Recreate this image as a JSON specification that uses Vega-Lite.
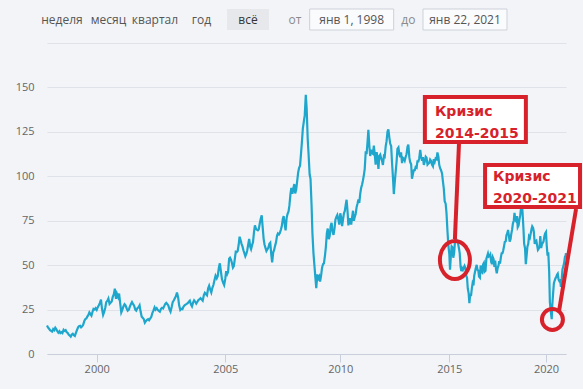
{
  "$schema": "https://vega.github.io/schema/vega-lite/v6.json",
  "background": "#f2f4f7",
  "padding": {"left": 15, "top": 8, "right": 0, "bottom": 20},
  "spacing": 12,
  "config": {"view": {"stroke": null}, "font": "Open Sans"},
  "vconcat": [
    {
      "width": 433,
      "height": 21,
      "resolve": {"scale": {"x": "independent"}},
      "layer": [
        {
          "data": {"values": [
            {"item": "неделя", "kind": "plain"},
            {"item": "месяц", "kind": "plain"},
            {"item": "квартал", "kind": "plain"},
            {"item": "год", "kind": "plain"},
            {"item": "всё", "kind": "active"}
          ]},
          "encoding": {"x": {"field": "item", "type": "nominal", "title": null, "sort": null, "scale": {"type": "point", "padding": 0, "domain": ["неделя", "месяц", "квартал", "год", "всё"], "range": [15, 201]}, "axis": null}},
          "layer": [
            {
              "transform": [{"filter": "datum.kind == 'active'"}],
              "mark": {"type": "rect", "width": 42, "fill": "#e6e8ec"}
            },
            {
              "mark": {"type": "text", "fontSize": 12, "align": "center", "baseline": "middle", "font": "Open Sans"},
              "encoding": {
                "text": {"field": "item"},
                "color": {"field": "kind", "type": "nominal", "scale": {"domain": ["plain", "active", "label", "date"], "range": ["#555555", "#333333", "#8a8a8a", "#555555"]}, "legend": null}
              }
            }
          ]
        },
        {
          "data": {"values": [
            {"item": "от", "kind": "label"},
            {"item": "янв 1, 1998", "kind": "date"},
            {"item": "до", "kind": "label"},
            {"item": "янв 22, 2021", "kind": "date"}
          ]},
          "encoding": {"x": {"field": "item", "type": "nominal", "title": null, "sort": null, "scale": {"type": "point", "padding": 0, "domain": ["от", "янв 1, 1998", "до", "янв 22, 2021"], "range": [248, 418]}, "axis": null}},
          "layer": [
            {
              "transform": [{"filter": "datum.kind == 'date'"}],
              "mark": {"type": "rect", "width": 84, "fill": "#fafbfc", "stroke": "#cdd1d8", "strokeWidth": 1}
            },
            {
              "mark": {"type": "text", "fontSize": 12, "align": "center", "baseline": "middle", "font": "Open Sans"},
              "encoding": {
                "text": {"field": "item"},
                "color": {"field": "kind", "type": "nominal", "scale": {"domain": ["plain", "active", "label", "date"], "range": ["#555555", "#333333", "#8a8a8a", "#555555"]}, "legend": null}
              }
            }
          ]
        }
      ]
    },
    {
      "width": 519,
      "height": 311,
      "encoding": {
        "x": {
          "field": "x", "type": "quantitative", "title": null,
          "scale": {
            "type": "linear", "nice": false, "zero": false,
            "domain": [1998, 2000, 2005, 2010, 2015, 2020, 2021.058],
            "range": [0, 49.7, 178.3, 293.3, 402.3, 499, 519]
          },
          "axis": {
            "values": [2000, 2005, 2010, 2015, 2020],
            "format": "d", "grid": false, "title": null,
            "domainColor": "#c8cfdb", "tickColor": "#c8cfdb", "tickSize": 8,
            "labelPadding": 1, "labelFontSize": 11, "labelColor": "#666666", "labelFont": "Open Sans"
          }
        },
        "y": {
          "field": "y", "type": "quantitative", "title": null,
          "scale": {"domain": [0, 175], "nice": false},
          "axis": {
            "values": [0, 25, 50, 75, 100, 125, 150, 175],
            "labelExpr": "datum.value == 175 ? '' : datum.label",
            "grid": true, "gridColor": "#dfe3e9", "ticks": false, "domain": false,
            "labelPadding": 13, "labelFontSize": 11, "labelColor": "#666666", "labelFont": "Open Sans", "title": null
          }
        }
      },
      "layer": [
        {
          "data": {"values": [
{"x":1998.000,"y":16.0},{"x":1998.038,"y":15.0},{"x":1998.083,"y":14.2},{"x":1998.121,"y":13.4},{"x":1998.167,"y":13.0},{"x":1998.205,"y":12.6},{"x":1998.250,"y":14.0},{"x":1998.288,"y":13.4},{"x":1998.333,"y":14.8},{"x":1998.371,"y":14.0},{"x":1998.417,"y":12.8},{"x":1998.455,"y":12.0},{"x":1998.500,"y":12.8},{"x":1998.538,"y":11.8},{"x":1998.583,"y":12.3},{"x":1998.621,"y":11.8},{"x":1998.667,"y":13.6},{"x":1998.705,"y":13.0},{"x":1998.750,"y":13.4},{"x":1998.788,"y":12.4},{"x":1998.833,"y":11.8},{"x":1998.871,"y":10.9},{"x":1998.917,"y":10.4},{"x":1998.955,"y":9.8},
{"x":1999.000,"y":11.0},{"x":1999.038,"y":11.4},{"x":1999.083,"y":10.6},{"x":1999.121,"y":10.2},{"x":1999.167,"y":12.0},{"x":1999.205,"y":13.4},{"x":1999.250,"y":15.0},{"x":1999.288,"y":15.6},{"x":1999.333,"y":15.8},{"x":1999.371,"y":15.0},{"x":1999.417,"y":15.6},{"x":1999.455,"y":16.4},{"x":1999.500,"y":18.5},{"x":1999.538,"y":19.6},{"x":1999.583,"y":20.0},{"x":1999.621,"y":21.0},{"x":1999.667,"y":22.0},{"x":1999.705,"y":23.4},{"x":1999.750,"y":22.4},{"x":1999.788,"y":21.6},{"x":1999.833,"y":23.8},{"x":1999.871,"y":25.4},{"x":1999.917,"y":25.0},{"x":1999.955,"y":25.8},
{"x":2000.000,"y":24.8},{"x":2000.038,"y":26.2},{"x":2000.083,"y":27.4},{"x":2000.121,"y":28.6},{"x":2000.167,"y":30.6},{"x":2000.205,"y":25.6},{"x":2000.250,"y":22.0},{"x":2000.288,"y":23.5},{"x":2000.333,"y":26.0},{"x":2000.371,"y":29.2},{"x":2000.417,"y":30.0},{"x":2000.455,"y":31.2},{"x":2000.500,"y":28.2},{"x":2000.538,"y":28.8},{"x":2000.583,"y":29.6},{"x":2000.621,"y":32.0},{"x":2000.667,"y":33.6},{"x":2000.705,"y":36.8},{"x":2000.750,"y":31.0},{"x":2000.788,"y":33.8},{"x":2000.833,"y":32.0},{"x":2000.871,"y":34.0},{"x":2000.917,"y":28.0},{"x":2000.955,"y":23.4},
{"x":2001.000,"y":25.0},{"x":2001.038,"y":26.8},{"x":2001.083,"y":28.0},{"x":2001.121,"y":27.4},{"x":2001.167,"y":25.6},{"x":2001.205,"y":24.4},{"x":2001.250,"y":25.0},{"x":2001.288,"y":26.6},{"x":2001.333,"y":28.2},{"x":2001.371,"y":29.2},{"x":2001.417,"y":28.0},{"x":2001.455,"y":27.2},{"x":2001.500,"y":25.0},{"x":2001.538,"y":24.4},{"x":2001.583,"y":25.8},{"x":2001.621,"y":26.2},{"x":2001.667,"y":27.4},{"x":2001.705,"y":24.0},{"x":2001.750,"y":21.0},{"x":2001.788,"y":20.4},{"x":2001.833,"y":19.6},{"x":2001.871,"y":17.6},{"x":2001.917,"y":18.6},{"x":2001.955,"y":19.2},
{"x":2002.000,"y":19.6},{"x":2002.038,"y":19.0},{"x":2002.083,"y":20.0},{"x":2002.121,"y":20.8},{"x":2002.167,"y":23.2},{"x":2002.205,"y":24.4},{"x":2002.250,"y":26.2},{"x":2002.288,"y":25.0},{"x":2002.333,"y":25.8},{"x":2002.371,"y":24.8},{"x":2002.417,"y":24.2},{"x":2002.455,"y":23.8},{"x":2002.500,"y":25.4},{"x":2002.538,"y":26.0},{"x":2002.583,"y":25.6},{"x":2002.621,"y":26.8},{"x":2002.667,"y":28.2},{"x":2002.705,"y":28.8},{"x":2002.750,"y":28.0},{"x":2002.788,"y":27.2},{"x":2002.833,"y":25.0},{"x":2002.871,"y":23.8},{"x":2002.917,"y":26.6},{"x":2002.955,"y":29.2},
{"x":2003.000,"y":30.2},{"x":2003.038,"y":31.4},{"x":2003.083,"y":32.6},{"x":2003.121,"y":34.6},{"x":2003.167,"y":31.8},{"x":2003.205,"y":27.4},{"x":2003.250,"y":24.8},{"x":2003.288,"y":25.4},{"x":2003.333,"y":25.2},{"x":2003.371,"y":26.6},{"x":2003.417,"y":27.4},{"x":2003.455,"y":27.8},{"x":2003.500,"y":28.2},{"x":2003.538,"y":28.6},{"x":2003.583,"y":29.4},{"x":2003.621,"y":30.0},{"x":2003.667,"y":27.8},{"x":2003.705,"y":26.8},{"x":2003.750,"y":29.0},{"x":2003.788,"y":30.2},{"x":2003.833,"y":29.4},{"x":2003.871,"y":28.4},{"x":2003.917,"y":29.4},{"x":2003.955,"y":30.4},
{"x":2004.000,"y":30.8},{"x":2004.038,"y":31.4},{"x":2004.083,"y":30.6},{"x":2004.121,"y":30.0},{"x":2004.167,"y":33.2},{"x":2004.205,"y":34.4},{"x":2004.250,"y":33.6},{"x":2004.288,"y":33.0},{"x":2004.333,"y":37.0},{"x":2004.371,"y":38.4},{"x":2004.417,"y":36.0},{"x":2004.455,"y":34.6},{"x":2004.500,"y":37.4},{"x":2004.538,"y":38.8},{"x":2004.583,"y":41.8},{"x":2004.621,"y":44.0},{"x":2004.667,"y":42.6},{"x":2004.705,"y":43.8},{"x":2004.750,"y":48.6},{"x":2004.788,"y":51.0},{"x":2004.833,"y":46.0},{"x":2004.871,"y":42.0},{"x":2004.917,"y":40.0},{"x":2004.955,"y":38.8},
{"x":2005.000,"y":42.4},{"x":2005.038,"y":46.6},{"x":2005.083,"y":45.0},{"x":2005.121,"y":46.2},{"x":2005.167,"y":53.6},{"x":2005.205,"y":54.2},{"x":2005.250,"y":53.0},{"x":2005.288,"y":51.2},{"x":2005.333,"y":48.6},{"x":2005.371,"y":49.4},{"x":2005.417,"y":53.8},{"x":2005.455,"y":57.6},{"x":2005.500,"y":57.4},{"x":2005.538,"y":58.0},{"x":2005.583,"y":61.6},{"x":2005.621,"y":66.0},{"x":2005.667,"y":64.0},{"x":2005.705,"y":62.0},{"x":2005.750,"y":60.4},{"x":2005.788,"y":58.4},{"x":2005.833,"y":56.6},{"x":2005.871,"y":55.0},{"x":2005.917,"y":56.4},{"x":2005.955,"y":58.4},
{"x":2006.000,"y":62.0},{"x":2006.038,"y":64.8},{"x":2006.083,"y":60.4},{"x":2006.121,"y":59.0},{"x":2006.167,"y":61.4},{"x":2006.205,"y":63.0},{"x":2006.250,"y":68.8},{"x":2006.288,"y":72.4},{"x":2006.333,"y":70.4},{"x":2006.371,"y":70.0},{"x":2006.417,"y":69.6},{"x":2006.455,"y":70.2},{"x":2006.500,"y":73.6},{"x":2006.538,"y":76.0},{"x":2006.583,"y":78.0},{"x":2006.621,"y":72.0},{"x":2006.667,"y":64.8},{"x":2006.705,"y":61.6},{"x":2006.750,"y":59.6},{"x":2006.788,"y":58.0},{"x":2006.833,"y":59.0},{"x":2006.871,"y":59.8},{"x":2006.917,"y":62.0},{"x":2006.955,"y":62.6},
{"x":2007.000,"y":55.8},{"x":2007.038,"y":51.5},{"x":2007.083,"y":57.2},{"x":2007.121,"y":58.4},{"x":2007.167,"y":61.0},{"x":2007.205,"y":62.8},{"x":2007.250,"y":66.6},{"x":2007.288,"y":67.8},{"x":2007.333,"y":67.2},{"x":2007.371,"y":68.0},{"x":2007.417,"y":70.0},{"x":2007.455,"y":71.8},{"x":2007.500,"y":76.0},{"x":2007.538,"y":77.6},{"x":2007.583,"y":73.0},{"x":2007.621,"y":69.6},{"x":2007.667,"y":76.6},{"x":2007.705,"y":78.8},{"x":2007.750,"y":80.2},{"x":2007.788,"y":83.6},{"x":2007.833,"y":90.0},{"x":2007.871,"y":93.4},{"x":2007.917,"y":90.2},{"x":2007.955,"y":93.0},
{"x":2008.000,"y":95.6},{"x":2008.038,"y":90.4},{"x":2008.083,"y":92.6},{"x":2008.121,"y":96.8},{"x":2008.167,"y":102.0},{"x":2008.205,"y":104.6},{"x":2008.250,"y":106.0},{"x":2008.288,"y":112.0},{"x":2008.333,"y":119.6},{"x":2008.371,"y":126.8},{"x":2008.417,"y":131.0},{"x":2008.455,"y":134.4},{"x":2008.500,"y":145.8},{"x":2008.538,"y":138.0},{"x":2008.583,"y":121.0},{"x":2008.621,"y":112.4},{"x":2008.667,"y":101.0},{"x":2008.705,"y":98.6},{"x":2008.750,"y":84.0},{"x":2008.788,"y":68.0},{"x":2008.833,"y":56.8},{"x":2008.871,"y":50.4},{"x":2008.917,"y":43.0},{"x":2008.955,"y":37.0},
{"x":2009.000,"y":44.8},{"x":2009.038,"y":42.4},{"x":2009.083,"y":43.6},{"x":2009.121,"y":40.8},{"x":2009.167,"y":44.2},{"x":2009.205,"y":48.4},{"x":2009.250,"y":50.6},{"x":2009.288,"y":51.0},{"x":2009.333,"y":55.4},{"x":2009.371,"y":60.0},{"x":2009.417,"y":68.2},{"x":2009.455,"y":70.6},{"x":2009.500,"y":64.6},{"x":2009.538,"y":66.4},{"x":2009.583,"y":72.0},{"x":2009.621,"y":73.8},{"x":2009.667,"y":68.6},{"x":2009.705,"y":67.0},{"x":2009.750,"y":70.8},{"x":2009.788,"y":75.6},{"x":2009.833,"y":77.2},{"x":2009.871,"y":78.2},{"x":2009.917,"y":75.6},{"x":2009.955,"y":72.8},
{"x":2010.000,"y":79.2},{"x":2010.038,"y":76.8},{"x":2010.083,"y":72.0},{"x":2010.121,"y":75.4},{"x":2010.167,"y":79.2},{"x":2010.205,"y":80.4},{"x":2010.250,"y":84.0},{"x":2010.288,"y":86.8},{"x":2010.333,"y":80.2},{"x":2010.371,"y":72.4},{"x":2010.417,"y":74.6},{"x":2010.455,"y":76.4},{"x":2010.500,"y":72.8},{"x":2010.538,"y":76.6},{"x":2010.583,"y":80.6},{"x":2010.621,"y":75.0},{"x":2010.667,"y":77.2},{"x":2010.705,"y":78.8},{"x":2010.750,"y":82.8},{"x":2010.788,"y":84.6},{"x":2010.833,"y":87.0},{"x":2010.871,"y":85.0},{"x":2010.917,"y":90.4},{"x":2010.955,"y":93.4},
{"x":2011.000,"y":95.4},{"x":2011.038,"y":97.6},{"x":2011.083,"y":100.8},{"x":2011.121,"y":104.2},{"x":2011.167,"y":114.0},{"x":2011.205,"y":112.4},{"x":2011.250,"y":119.4},{"x":2011.288,"y":126.2},{"x":2011.333,"y":117.0},{"x":2011.371,"y":111.4},{"x":2011.417,"y":115.0},{"x":2011.455,"y":113.0},{"x":2011.500,"y":112.6},{"x":2011.538,"y":117.2},{"x":2011.583,"y":112.0},{"x":2011.621,"y":106.6},{"x":2011.667,"y":113.6},{"x":2011.705,"y":110.8},{"x":2011.750,"y":104.2},{"x":2011.788,"y":111.4},{"x":2011.833,"y":112.2},{"x":2011.871,"y":110.2},{"x":2011.917,"y":108.6},{"x":2011.955,"y":106.4},
{"x":2012.000,"y":111.4},{"x":2012.038,"y":111.0},{"x":2012.083,"y":117.0},{"x":2012.121,"y":119.6},{"x":2012.167,"y":125.2},{"x":2012.205,"y":126.4},{"x":2012.250,"y":121.8},{"x":2012.288,"y":118.4},{"x":2012.333,"y":117.0},{"x":2012.371,"y":108.2},{"x":2012.417,"y":99.0},{"x":2012.455,"y":90.0},{"x":2012.500,"y":97.0},{"x":2012.538,"y":102.2},{"x":2012.583,"y":108.4},{"x":2012.621,"y":115.4},{"x":2012.667,"y":116.2},{"x":2012.705,"y":112.6},{"x":2012.750,"y":110.8},{"x":2012.788,"y":113.4},{"x":2012.833,"y":107.4},{"x":2012.871,"y":110.4},{"x":2012.917,"y":109.8},{"x":2012.955,"y":108.8},
{"x":2013.000,"y":111.0},{"x":2013.038,"y":112.4},{"x":2013.083,"y":116.6},{"x":2013.121,"y":117.8},{"x":2013.167,"y":110.6},{"x":2013.205,"y":108.0},{"x":2013.250,"y":106.8},{"x":2013.288,"y":98.6},{"x":2013.333,"y":101.4},{"x":2013.371,"y":103.4},{"x":2013.417,"y":103.4},{"x":2013.455,"y":105.2},{"x":2013.500,"y":104.8},{"x":2013.538,"y":108.4},{"x":2013.583,"y":108.4},{"x":2013.621,"y":110.2},{"x":2013.667,"y":114.8},{"x":2013.705,"y":111.2},{"x":2013.750,"y":108.8},{"x":2013.788,"y":110.8},{"x":2013.833,"y":106.4},{"x":2013.871,"y":108.2},{"x":2013.917,"y":111.0},{"x":2013.955,"y":110.4},
{"x":2014.000,"y":106.6},{"x":2014.038,"y":107.2},{"x":2014.083,"y":107.6},{"x":2014.121,"y":109.4},{"x":2014.167,"y":108.6},{"x":2014.205,"y":106.6},{"x":2014.250,"y":105.6},{"x":2014.288,"y":109.6},{"x":2014.333,"y":108.2},{"x":2014.371,"y":110.0},{"x":2014.417,"y":109.6},{"x":2014.455,"y":113.4},{"x":2014.500,"y":111.0},{"x":2014.538,"y":106.4},{"x":2014.583,"y":104.4},{"x":2014.621,"y":103.4},{"x":2014.667,"y":101.6},{"x":2014.705,"y":97.4},{"x":2014.750,"y":92.8},{"x":2014.788,"y":86.0},{"x":2014.833,"y":84.6},{"x":2014.871,"y":79.4},{"x":2014.917,"y":69.0},{"x":2014.955,"y":61.4},
{"x":2015.000,"y":56.4},{"x":2015.038,"y":47.4},{"x":2015.083,"y":55.6},{"x":2015.121,"y":60.6},{"x":2015.167,"y":60.0},{"x":2015.205,"y":54.2},{"x":2015.250,"y":56.8},{"x":2015.288,"y":62.4},{"x":2015.333,"y":65.4},{"x":2015.371,"y":64.2},{"x":2015.417,"y":63.2},{"x":2015.455,"y":62.0},{"x":2015.500,"y":59.4},{"x":2015.538,"y":56.8},{"x":2015.583,"y":49.2},{"x":2015.621,"y":46.6},{"x":2015.667,"y":48.2},{"x":2015.705,"y":47.4},{"x":2015.750,"y":48.6},{"x":2015.788,"y":49.6},{"x":2015.833,"y":48.4},{"x":2015.871,"y":44.2},{"x":2015.917,"y":42.8},{"x":2015.955,"y":37.0},
{"x":2016.000,"y":34.2},{"x":2016.038,"y":28.6},{"x":2016.083,"y":33.8},{"x":2016.121,"y":32.6},{"x":2016.167,"y":37.0},{"x":2016.205,"y":39.8},{"x":2016.250,"y":38.6},{"x":2016.288,"y":44.0},{"x":2016.333,"y":46.4},{"x":2016.371,"y":48.4},{"x":2016.417,"y":50.2},{"x":2016.455,"y":47.4},{"x":2016.500,"y":47.0},{"x":2016.538,"y":43.6},{"x":2016.583,"y":43.0},{"x":2016.621,"y":49.8},{"x":2016.667,"y":46.2},{"x":2016.705,"y":45.8},{"x":2016.750,"y":50.4},{"x":2016.788,"y":51.2},{"x":2016.833,"y":46.4},{"x":2016.871,"y":46.8},{"x":2016.917,"y":53.6},{"x":2016.955,"y":55.0},
{"x":2017.000,"y":56.6},{"x":2017.038,"y":54.8},{"x":2017.083,"y":55.2},{"x":2017.121,"y":56.0},{"x":2017.167,"y":51.8},{"x":2017.205,"y":50.6},{"x":2017.250,"y":54.4},{"x":2017.288,"y":53.4},{"x":2017.333,"y":49.0},{"x":2017.371,"y":52.6},{"x":2017.417,"y":47.6},{"x":2017.455,"y":45.4},{"x":2017.500,"y":48.4},{"x":2017.538,"y":49.6},{"x":2017.583,"y":52.2},{"x":2017.621,"y":50.8},{"x":2017.667,"y":54.4},{"x":2017.705,"y":56.6},{"x":2017.750,"y":56.8},{"x":2017.788,"y":58.2},{"x":2017.833,"y":60.8},{"x":2017.871,"y":63.2},{"x":2017.917,"y":63.4},{"x":2017.955,"y":66.8},
{"x":2018.000,"y":68.0},{"x":2018.038,"y":69.8},{"x":2018.083,"y":66.4},{"x":2018.121,"y":63.2},{"x":2018.167,"y":64.6},{"x":2018.205,"y":67.6},{"x":2018.250,"y":70.2},{"x":2018.288,"y":73.4},{"x":2018.333,"y":75.0},{"x":2018.371,"y":79.4},{"x":2018.417,"y":75.4},{"x":2018.455,"y":74.8},{"x":2018.500,"y":77.6},{"x":2018.538,"y":71.4},{"x":2018.583,"y":72.4},{"x":2018.621,"y":75.4},{"x":2018.667,"y":78.0},{"x":2018.705,"y":81.8},{"x":2018.750,"y":85.4},{"x":2018.788,"y":79.4},{"x":2018.833,"y":70.8},{"x":2018.871,"y":62.0},{"x":2018.917,"y":59.4},{"x":2018.955,"y":50.6},
{"x":2019.000,"y":55.6},{"x":2019.038,"y":60.4},{"x":2019.083,"y":62.0},{"x":2019.121,"y":66.2},{"x":2019.167,"y":65.4},{"x":2019.205,"y":67.6},{"x":2019.250,"y":70.2},{"x":2019.288,"y":71.8},{"x":2019.333,"y":71.0},{"x":2019.371,"y":68.8},{"x":2019.417,"y":62.0},{"x":2019.455,"y":63.4},{"x":2019.500,"y":63.8},{"x":2019.538,"y":61.4},{"x":2019.583,"y":58.6},{"x":2019.621,"y":59.2},{"x":2019.667,"y":60.2},{"x":2019.705,"y":66.4},{"x":2019.750,"y":59.6},{"x":2019.788,"y":61.6},{"x":2019.833,"y":62.6},{"x":2019.871,"y":63.2},{"x":2019.917,"y":66.2},{"x":2019.955,"y":67.8},
{"x":2020.000,"y":68.6},{"x":2020.038,"y":61.2},{"x":2020.083,"y":55.4},{"x":2020.121,"y":57.2},{"x":2020.167,"y":46.4},{"x":2020.205,"y":29.2},{"x":2020.250,"y":24.2},{"x":2020.302,"y":19.6},{"x":2020.333,"y":27.6},{"x":2020.371,"y":33.4},{"x":2020.417,"y":39.8},{"x":2020.455,"y":41.2},{"x":2020.500,"y":42.6},{"x":2020.538,"y":43.2},{"x":2020.583,"y":44.6},{"x":2020.621,"y":45.2},{"x":2020.667,"y":41.8},{"x":2020.705,"y":41.0},{"x":2020.750,"y":41.4},{"x":2020.788,"y":37.8},{"x":2020.833,"y":42.4},{"x":2020.871,"y":47.6},{"x":2020.917,"y":49.4},{"x":2020.955,"y":51.0},
{"x":2021.000,"y":54.6},{"x":2021.038,"y":55.4},{"x":2021.058,"y":56.8}
          ]},
          "mark": {"type": "line", "color": "#1ea6cc", "strokeWidth": 2.2}
        },
        {
          "data": {"values": [
            {"x": 2015.50, "y": 118.2, "x2": 2015.29, "y2": 64.7},
            {"x": 2021.59, "y": 81.6, "x2": 2020.69, "y2": 24.2}
          ]},
          "mark": {"type": "rule", "stroke": "#d7222b", "strokeWidth": 4},
          "encoding": {
            "x2": {"field": "x2"},
            "y2": {"field": "y2"}
          }
        },
        {
          "data": {"values": [{"x": 2015.29, "y": 52.9}]},
          "mark": {"type": "point", "filled": false, "stroke": "#d7222b", "strokeWidth": 4, "opacity": 1, "size": 1444, "shape": "M0,-1A0.79,1,0,1,1,0,1A0.79,1,0,1,1,0,-1Z"}
        },
        {
          "data": {"values": [{"x": 2020.34, "y": 19.4}]},
          "mark": {"type": "point", "filled": false, "stroke": "#d7222b", "strokeWidth": 4, "opacity": 1, "size": 441, "shape": "circle"}
        },
        {
          "data": {"values": [
            {"x": 2013.88, "x2": 2018.96, "y": 144.6, "y2": 119.3},
            {"x": 2016.85, "x2": 2021.80, "y": 106.4, "y2": 82.7}
          ]},
          "mark": {"type": "rect", "fill": "#ffffff", "stroke": "#d7222b", "strokeWidth": 4},
          "encoding": {
            "x2": {"field": "x2"},
            "y2": {"field": "y2"}
          }
        },
        {
          "data": {"values": [
            {"x": 2014.34, "y": 133.8, "t": "Кризис"},
            {"x": 2014.34, "y": 121.4, "t": "2014-2015"},
            {"x": 2017.26, "y": 97.4, "t": "Кризис"},
            {"x": 2017.26, "y": 85.1, "t": "2020-2021"}
          ]},
          "mark": {"type": "text", "font": "DejaVu Sans", "fontWeight": "bold", "fontSize": 14, "color": "#d7222b", "align": "left", "baseline": "alphabetic"},
          "encoding": {
            "text": {"field": "t"}
          }
        }
      ]
    }
  ]
}
